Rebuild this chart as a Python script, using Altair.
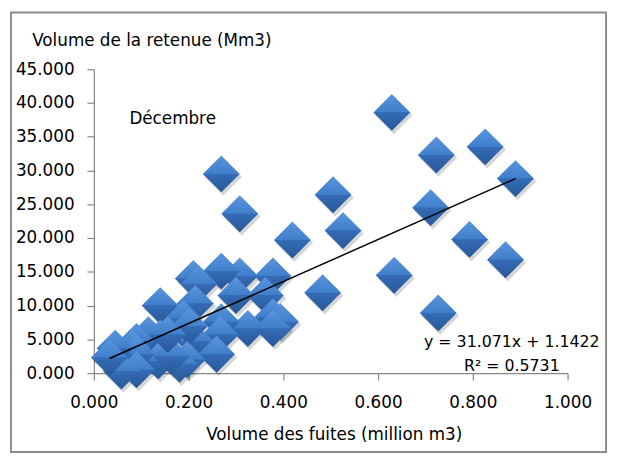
import altair as alt
import pandas as pd

# Data
fuites = [0.629, 0.723, 0.826, 0.890, 0.269, 0.308, 0.505, 0.526, 0.711, 0.419,
          0.793, 0.869, 0.634, 0.483, 0.727, 0.378, 0.308, 0.269, 0.210, 0.222,
          0.300, 0.362, 0.140, 0.214, 0.378, 0.394, 0.378, 0.325, 0.269, 0.267,
          0.214, 0.189, 0.201, 0.259, 0.197, 0.181, 0.140, 0.115, 0.090, 0.082,
          0.136, 0.090, 0.090, 0.058, 0.045, 0.033, 0.164, 0.156]
retenue = [38.6, 32.3, 33.5, 28.8, 29.5, 23.6, 26.4, 21.1, 24.5, 19.7,
           19.8, 16.8, 14.5, 11.9, 8.9, 14.4, 14.4, 15.1, 14.0, 13.2,
           11.5, 11.5, 10.0, 10.3, 8.3, 7.6, 6.6, 6.6, 7.6, 5.7,
           4.7, 8.1, 6.9, 2.8, 2.0, 1.3, 5.2, 5.7, 4.7, 3.7,
           1.8, 2.8, 0.5, 0.3, 3.7, 2.3, 2.5, 5.7]
x_ticks = [0.0, 0.2, 0.4, 0.6, 0.8, 1.0]
y_ticks = [0.0, 5.0, 10.0, 15.0, 20.0, 25.0, 30.0, 35.0, 40.0, 45.0]
SLOPE = 31.071
INTERCEPT = 1.1422
R2 = 0.5731

df = pd.DataFrame({"fuites": fuites, "retenue": retenue})
xmin, xmax = min(fuites), max(fuites)
line_df = pd.DataFrame({"fuites": [xmin, xmax],
                        "retenue": [SLOPE * xmin + INTERCEPT, SLOPE * xmax + INTERCEPT]})
one = pd.DataFrame({"k": [0]})

FONT = "DejaVu Sans"
W, H = 480, 308

xscale = alt.Scale(domain=[0, 1], nice=False, zero=False)
yscale = alt.Scale(domain=[0, 45], nice=False, zero=False)

xaxis = alt.Axis(values=x_ticks, tickCount=len(x_ticks), format=".3f",
                 title="Volume des fuites (million m3)",
                 titleX=243, titleY=67, titleAlign="center", titleBaseline="alphabetic",
                 labelPadding=15, tickSize=7, labelFlush=False, labelOverlap=False)
yaxis = alt.Axis(values=y_ticks, tickCount=len(y_ticks), format=".3f",
                 title="Volume de la retenue (Mm3)",
                 titleAngle=0, titleX=-63, titleY=-24, titleAlign="left",
                 titleBaseline="alphabetic", labelPadding=13, tickSize=7,
                 labelFlush=False, labelOverlap=False, labelBound=False)

X = alt.X("fuites:Q", scale=xscale, axis=xaxis)
Y = alt.Y("retenue:Q", scale=yscale, axis=yaxis)

border = alt.Chart(one).mark_rect(fill="transparent", stroke="#8c8c8c", strokeWidth=2).encode(
    x=alt.value(-84), x2=alt.value(519), y=alt.value(-57.5), y2=alt.value(388))

shadow = alt.Chart(df).mark_point(shape="diamond", filled=True, size=1450, color="#000000",
                                  opacity=0.16, xOffset=2, yOffset=3).encode(x=X, y=Y)

grad = alt.Gradient(gradient="linear", x1=0, y1=0, x2=0, y2=1, stops=[
    alt.GradientStop(offset=0, color="#5a95dc"),
    alt.GradientStop(offset=0.49, color="#417fcc"),
    alt.GradientStop(offset=0.5, color="#346cb6"),
    alt.GradientStop(offset=1, color="#285796")])

diamonds = alt.Chart(df).mark_point(shape="diamond", filled=True, size=1400, fill=grad,
                                    strokeOpacity=0, opacity=1).encode(x=X, y=Y)

trend = alt.Chart(line_df).mark_line(color="black", strokeWidth=1.5).encode(x=X, y=Y)

month = alt.Chart(one).mark_text(text="Décembre", font=FONT, fontSize=17, align="left",
                                 baseline="alphabetic", color="black").encode(
    x=alt.value(36), y=alt.value(56))

eq_text = f"y = {SLOPE}x + {INTERCEPT}\nR² = {R2}"
eq = alt.Chart(one).mark_text(text=eq_text, lineBreak="\n", lineHeight=25, font=FONT,
                              fontSize=16, align="center", baseline="alphabetic",
                              color="black").encode(
    x=alt.value(423.5), y=alt.value(281))

chart = alt.layer(border, shadow, diamonds, trend, month, eq).properties(
    width=W, height=H,
    autosize=alt.AutoSizeParams(type="none"),
    padding={"left": 87, "top": 59, "right": 44, "bottom": 84},
).configure_view(stroke=None).configure_axis(
    grid=False, domainColor="#888888", tickColor="#888888", domainWidth=1.2, tickWidth=1.2,
    labelFont=FONT, labelFontSize=17, labelColor="black",
    titleFont=FONT, titleFontSize=17, titleFontWeight="normal", titleColor="black")

chart.save("out.html", embed_options={"renderer": "svg", "actions": False})
